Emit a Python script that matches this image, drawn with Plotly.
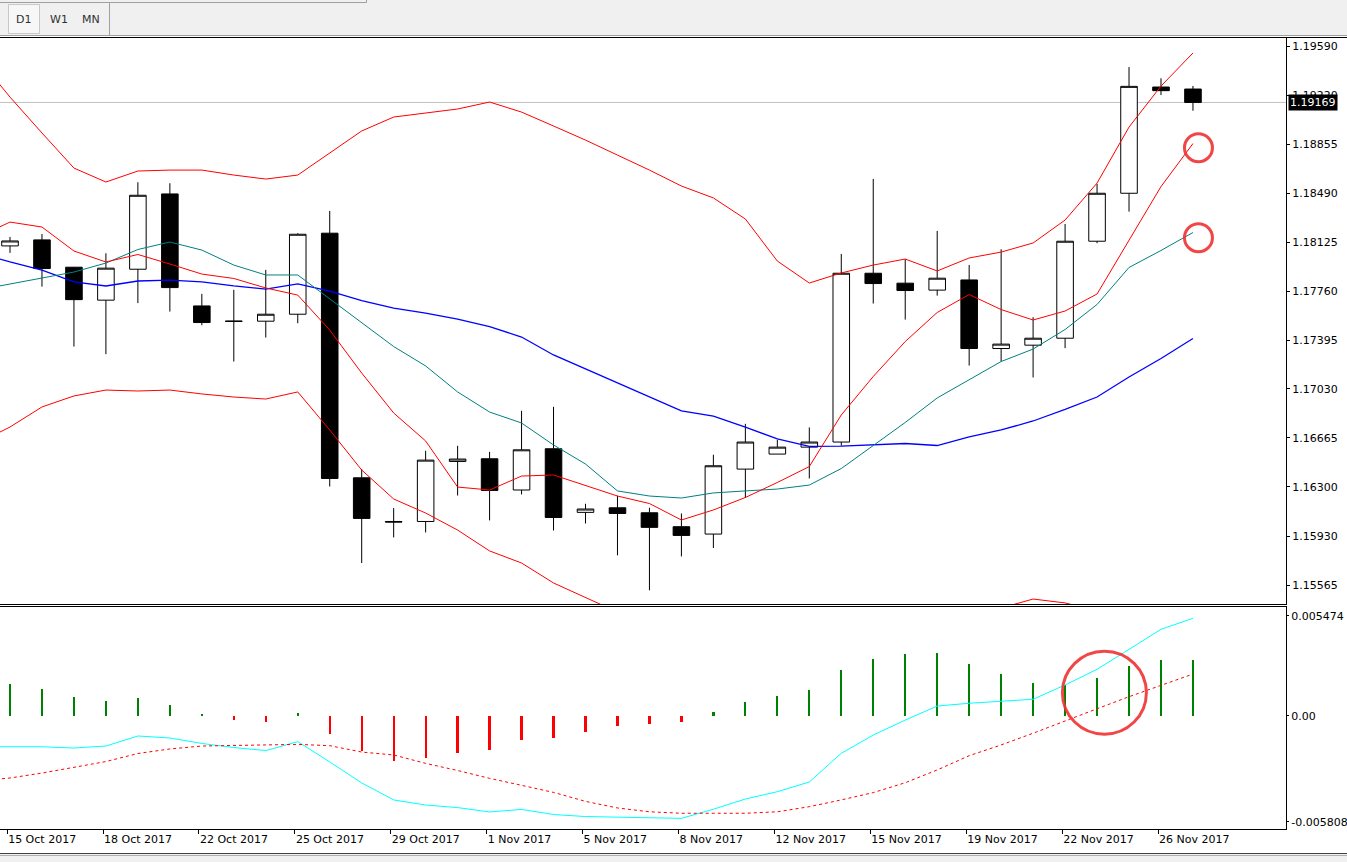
import plotly.graph_objects as go

# ---------------- data ----------------
dates = ["15 Oct 2017", "16 Oct 2017", "17 Oct 2017", "18 Oct 2017", "19 Oct 2017", "20 Oct 2017",
         "22 Oct 2017", "23 Oct 2017", "24 Oct 2017", "25 Oct 2017", "26 Oct 2017", "27 Oct 2017",
         "29 Oct 2017", "30 Oct 2017", "31 Oct 2017", "1 Nov 2017", "2 Nov 2017", "3 Nov 2017",
         "5 Nov 2017", "6 Nov 2017", "7 Nov 2017", "8 Nov 2017", "9 Nov 2017", "10 Nov 2017",
         "12 Nov 2017", "13 Nov 2017", "14 Nov 2017", "15 Nov 2017", "16 Nov 2017", "17 Nov 2017",
         "19 Nov 2017", "20 Nov 2017", "21 Nov 2017", "22 Nov 2017", "23 Nov 2017", "24 Nov 2017",
         "26 Nov 2017", "27 Nov 2017"]

open_ = [1.18098, 1.18143, 1.17939, 1.17693, 1.17924, 1.18486, 1.17650, 1.17538, 1.17536, 1.17588,
         1.18193, 1.16367, 1.16041, 1.16041, 1.16489, 1.16509, 1.16276, 1.16584, 1.16109, 1.16143,
         1.16106, 1.16002, 1.15947, 1.16432, 1.16544, 1.16596, 1.16634, 1.17894, 1.17820, 1.17768,
         1.17844, 1.17332, 1.17357, 1.17409, 1.18133, 1.18491, 1.19284, 1.19269]
high = [1.18165, 1.18187, 1.17941, 1.18043, 1.18573, 1.18566, 1.17740, 1.17770, 1.17919, 1.18193,
        1.18359, 1.16432, 1.16141, 1.16569, 1.16606, 1.16561, 1.16867, 1.16897, 1.16173, 1.16233,
        1.16143, 1.16101, 1.16539, 1.16770, 1.16651, 1.16743, 1.18038, 1.18598, 1.17999, 1.18210,
        1.17956, 1.18073, 1.17566, 1.18262, 1.18561, 1.19433, 1.19349, 1.19292]
low = [1.18046, 1.17794, 1.17347, 1.17290, 1.17671, 1.17608, 1.17506, 1.17235, 1.17414, 1.17521,
       1.16302, 1.15731, 1.15922, 1.15959, 1.16235, 1.16049, 1.16243, 1.15974, 1.16026, 1.15788,
       1.15527, 1.15780, 1.15843, 1.16216, 1.16544, 1.16362, 1.16606, 1.17668, 1.17548, 1.17727,
       1.17205, 1.17235, 1.17116, 1.17335, 1.18118, 1.18354, 1.19224, 1.19107]
close = [1.18135, 1.17929, 1.17697, 1.17932, 1.18476, 1.17787, 1.17526, 1.17534, 1.17588, 1.18185,
         1.16362, 1.16064, 1.16037, 1.16499, 1.16507, 1.16273, 1.16576, 1.16071, 1.16134, 1.16101,
         1.15997, 1.15937, 1.16457, 1.16634, 1.16596, 1.16634, 1.17894, 1.17817, 1.17765, 1.17857,
         1.17332, 1.17365, 1.17409, 1.18133, 1.18491, 1.19289, 1.19257, 1.19169]

# indicator series start one bar earlier (13 Oct 2017, just left of the visible window)
ma_fast = [1.18164,
           1.18276, 1.18239, 1.18060, 1.17978, 1.18034, 1.17963, 1.17888, 1.17855, 1.17784, 1.17731,
           1.17470, 1.17149, 1.16851, 1.16642, 1.16298, 1.16276, 1.16380, 1.16388, 1.16310, 1.16231,
           1.16175, 1.16052, 1.16127, 1.16220, 1.16332, 1.16451, 1.16836, 1.17123, 1.17384, 1.17601,
           1.17735, 1.17623, 1.17545, 1.17612, 1.17739, 1.18142, 1.18541, 1.18862]
ma_slow = [1.17769,
           1.17814, 1.17855, 1.17903, 1.17970, 1.18071, 1.18127, 1.18067, 1.17955, 1.17881, 1.17881,
           1.17702, 1.17523, 1.17347, 1.17202, 1.17008, 1.16858, 1.16776, 1.16612, 1.16470, 1.16269,
           1.16231, 1.16216, 1.16254, 1.16269, 1.16283, 1.16313, 1.16436, 1.16608, 1.16780, 1.16963,
           1.17097, 1.17235, 1.17328, 1.17474, 1.17661, 1.17937, 1.18064, 1.18198]
bb_mid = [1.18045,
          1.17978, 1.17918, 1.17829, 1.17799, 1.17836, 1.17843, 1.17829, 1.17799, 1.17776, 1.17814,
          1.17761, 1.17690, 1.17634, 1.17597, 1.17552, 1.17496, 1.17418, 1.17284, 1.17179, 1.17071,
          1.16966, 1.16866, 1.16828, 1.16746, 1.16657, 1.16601, 1.16604, 1.16616, 1.16623, 1.16608,
          1.16672, 1.16724, 1.16791, 1.16877, 1.16970, 1.17119, 1.17258, 1.17407]
bb_upper = [1.19500,
            1.19209, 1.18941, 1.18679, 1.18575, 1.18657, 1.18664, 1.18664, 1.18627, 1.18597, 1.18627,
            1.18791, 1.18956, 1.19060, 1.19090, 1.19120, 1.19172, 1.19097, 1.18993, 1.18888, 1.18776,
            1.18664, 1.18545, 1.18456, 1.18299, 1.17985, 1.17821, 1.17896, 1.17955, 1.18000, 1.17911,
            1.18008, 1.18052, 1.18120, 1.18291, 1.18567, 1.18985, 1.19291, 1.19538]
bb_lower = [1.16627,
            1.16746, 1.16896, 1.16978, 1.17022, 1.17015, 1.17022, 1.16993, 1.16970, 1.16955, 1.17008,
            1.16724, 1.16425, 1.16209, 1.16104, 1.15977, 1.15821, 1.15731, 1.15582, 1.15470, 1.15365,
            1.15268, 1.15186, 1.15201, 1.15194, 1.15328, 1.15380, 1.15313, 1.15276, 1.15246, 1.15306,
            1.15335, 1.15395, 1.15462, 1.15433, 1.15373, 1.15254, 1.15224, 1.15276]

macd_main = [-0.00170,
             -0.00170, -0.00170, -0.00177, -0.00166, -0.00111, -0.00122, -0.00152, -0.00174, -0.00191, -0.00142,
             -0.00253, -0.00368, -0.00461, -0.00489, -0.00503, -0.00527, -0.00513, -0.00541, -0.00552, -0.00556,
             -0.00562, -0.00562, -0.00512, -0.00456, -0.00416, -0.00363, -0.00206, -0.00106, -0.00024, 0.00053,
             0.00068, 0.00080, 0.00090, 0.00168, 0.00254, 0.00363, 0.00473, 0.00533]
macd_signal = [-0.00357,
               -0.00341, -0.00314, -0.00281, -0.00251, -0.00207, -0.00182, -0.00166, -0.00162, -0.00160, -0.00157,
               -0.00164, -0.00199, -0.00215, -0.00261, -0.00300, -0.00343, -0.00381, -0.00420, -0.00469, -0.00505,
               -0.00526, -0.00534, -0.00534, -0.00534, -0.00526, -0.00498, -0.00461, -0.00421, -0.00367, -0.00297,
               -0.00219, -0.00160, -0.00096, -0.00027, 0.00038, 0.00104, 0.00168, 0.00228]
osma = [0.00175, 0.00148, 0.00104, 0.00082, 0.00099, 0.00060, 0.00011, -0.00022, -0.00033, 0.00016,
        -0.00099, -0.00192, -0.00246, -0.00230, -0.00203, -0.00186, -0.00131, -0.00120, -0.00088, -0.00055,
        -0.00044, -0.00033, 0.00022, 0.00077, 0.00109, 0.00142, 0.00252, 0.00312, 0.00339, 0.00345,
        0.00285, 0.00230, 0.00181, 0.00170, 0.00208, 0.00274, 0.00307, 0.00307]

date_tick_labels = ["15 Oct 2017", "18 Oct 2017", "22 Oct 2017", "25 Oct 2017", "29 Oct 2017",
                    "1 Nov 2017", "5 Nov 2017", "8 Nov 2017", "12 Nov 2017", "15 Nov 2017",
                    "19 Nov 2017", "22 Nov 2017", "26 Nov 2017"]
price_ticks = [1.19590, 1.19220, 1.18855, 1.18490, 1.18125, 1.17760, 1.17395,
               1.17030, 1.16665, 1.16300, 1.15930, 1.15565]
osc_ticks = [0.005474, 0.0, -0.005808]
osc_tick_labels = ["0.005474", "0.00", "-0.005808"]
timeframes = ["D1", "W1", "MN"]

# ---------------- geometry helpers (decorations only) ----------------
W, H = 1347, 862
PL, PR, PT, PB = 0, 1286, 38, 829


def fx(px):
    return (px - PL) / (PR - PL)


def fy(py):
    return (PB - py) / (PB - PT)


idx = list(range(len(dates)))
line_idx = list(range(-1, len(dates)))
tick_idx = [dates.index(d) - 0.09 for d in date_tick_labels]
FONT = "DejaVu Sans"

fig = go.Figure()

fig.add_trace(go.Candlestick(
    x=idx, open=open_, high=high, low=low, close=close,
    increasing=dict(line=dict(color="black", width=1), fillcolor="white"),
    decreasing=dict(line=dict(color="black", width=1), fillcolor="black"),
    whiskerwidth=0, xaxis="x", yaxis="y", showlegend=False, hoverinfo="skip"))

for series, color, w in [(bb_upper, "#FF0000", 1), (bb_lower, "#FF0000", 1),
                         (bb_mid, "#0000FF", 1.3), (ma_slow, "#008080", 1),
                         (ma_fast, "#FF0000", 1)]:
    fig.add_trace(go.Scatter(x=line_idx, y=series, mode="lines",
                             line=dict(color=color, width=w),
                             xaxis="x", yaxis="y", showlegend=False, hoverinfo="skip"))

bar_colors = ["#008000" if v >= 0 else "#FF0000" for v in osma]
fig.add_trace(go.Bar(x=idx, y=osma, marker=dict(color=bar_colors, line=dict(width=0)),
                     width=0.07, xaxis="x2", yaxis="y2", showlegend=False, hoverinfo="skip"))
fig.add_trace(go.Scatter(x=line_idx, y=macd_main, mode="lines",
                         line=dict(color="#00FFFF", width=1),
                         xaxis="x2", yaxis="y2", showlegend=False, hoverinfo="skip"))
fig.add_trace(go.Scatter(x=line_idx, y=macd_signal, mode="lines",
                         line=dict(color="#FF0000", width=1, dash="dot"),
                         xaxis="x2", yaxis="y2", showlegend=False, hoverinfo="skip"))

xrange = [-0.313, 39.91]
main_dom = [fy(604), 1]
sub_dom = [0, fy(607)]

axis_font = dict(family=FONT, size=11, color="black")
fig.update_layout(
    width=W, height=H,
    margin=dict(l=PL, r=W - PR, t=PT, b=H - PB, pad=0),
    paper_bgcolor="white", plot_bgcolor="white",
    boxgap=0.26, bargap=0, hovermode=False,
    font=axis_font,
    xaxis=dict(domain=[0, 1], anchor="y", range=xrange, showticklabels=False, ticks="",
               showgrid=False, zeroline=False, showline=True, linecolor="black", linewidth=1,
               mirror=True, rangeslider=dict(visible=False), fixedrange=True),
    xaxis2=dict(domain=[0, 1], anchor="y2", range=xrange, matches="x",
                tickmode="array", tickvals=tick_idx, ticktext=date_tick_labels,
                ticks="outside", ticklen=4, tickcolor="black", tickwidth=1,
                ticklabelposition="outside right", tickfont=axis_font,
                showgrid=False, zeroline=False, showline=True, linecolor="black",
                linewidth=1, mirror=True),
    yaxis=dict(domain=main_dom, anchor="x", side="right", range=[1.15425, 1.19650],
               tickmode="array", tickvals=price_ticks, ticktext=[f"{v:.5f}" for v in price_ticks],
               ticks="outside", ticklen=3, tickcolor="black", tickfont=axis_font,
               showgrid=False, zeroline=False, showline=True, linecolor="black", linewidth=1),
    yaxis2=dict(domain=sub_dom, anchor="x2", side="right", range=[-0.006202, 0.005950],
                tickmode="array", tickvals=osc_ticks, ticktext=osc_tick_labels,
                ticks="outside", ticklen=2, tickcolor="black", tickfont=axis_font,
                showgrid=False, zeroline=False, showline=True, linecolor="black", linewidth=1),
)

shapes = []
# current price line
shapes.append(dict(type="line", xref="x domain", yref="y", x0=0, x1=1, y0=close[-1], y1=close[-1],
                   line=dict(color="#C0C0C0", width=1), layer="below"))
# toolbar background + borders
shapes.append(dict(type="rect", xref="paper", yref="paper", x0=fx(0), x1=fx(W), y0=fy(36), y1=fy(0),
                   fillcolor="#F0F0F0", line=dict(width=0), layer="above"))
shapes.append(dict(type="line", xref="paper", yref="paper", x0=fx(0), x1=fx(W), y0=fy(35.5), y1=fy(35.5),
                   line=dict(color="#A0A0A0", width=1)))
shapes.append(dict(type="line", xref="paper", yref="paper", x0=fx(0), x1=fx(W), y0=fy(37.5), y1=fy(37.5),
                   line=dict(color="black", width=1)))
shapes.append(dict(type="line", xref="paper", yref="paper", x0=fx(0), x1=fx(366.5), y0=fy(2.5), y1=fy(2.5),
                   line=dict(color="#A0A0A0", width=1)))
shapes.append(dict(type="line", xref="paper", yref="paper", x0=fx(366.5), x1=fx(366.5), y0=fy(2.5), y1=fy(0),
                   line=dict(color="#A0A0A0", width=1)))
shapes.append(dict(type="rect", xref="paper", yref="paper", x0=fx(8.5), x1=fx(39.5), y0=fy(33.5), y1=fy(4.5),
                   fillcolor="#F7F7F7", line=dict(color="#C8C8C8", width=1)))
shapes.append(dict(type="line", xref="paper", yref="paper", x0=fx(109.5), x1=fx(109.5), y0=fy(35), y1=fy(3),
                   line=dict(color="#A0A0A0", width=1)))
# bottom strip
shapes.append(dict(type="rect", xref="paper", yref="paper", x0=fx(0), x1=fx(W), y0=fy(H), y1=fy(854),
                   fillcolor="#F0F0F0", line=dict(width=0)))
shapes.append(dict(type="line", xref="paper", yref="paper", x0=fx(0), x1=fx(W), y0=fy(853.5), y1=fy(853.5),
                   line=dict(color="#404040", width=1)))
shapes.append(dict(type="line", xref="paper", yref="paper", x0=fx(0), x1=fx(W), y0=fy(855.5), y1=fy(855.5),
                   line=dict(color="#B0B0B0", width=1)))

# hand-drawn red circles (annotations on the original screenshot)
circle_style = dict(color="rgba(240,50,50,0.9)", width=3)
last = idx[-1]
px_x = (xrange[1] - xrange[0]) / (PR - PL)
px_y = (1.19650 - 1.15425) / (604 - 38)
for cy_val, dy in [(ma_fast[-1], 4.2), (ma_slow[-1], 5.2)]:
    cx = last + 5.5 * px_x
    cy = cy_val - dy * px_y
    r = 14
    shapes.append(dict(type="circle", xref="x", yref="y",
                       x0=cx - r * px_x, x1=cx + r * px_x, y0=cy - r * px_y, y1=cy + r * px_y,
                       line=circle_style, layer="above"))
px_y2 = (0.005950 + 0.006202) / (829 - 607)
cx2, cy2 = 34.23, 0.00126
shapes.append(dict(type="circle", xref="x2", yref="y2",
                   x0=cx2 - 42 * px_x, x1=cx2 + 42 * px_x, y0=cy2 - 41.5 * px_y2, y1=cy2 + 41.5 * px_y2,
                   line=circle_style, layer="above"))
fig.update_layout(shapes=shapes)

annotations = []
for name, xc in zip(timeframes, [23.5, 59, 91]):
    annotations.append(dict(text=name, xref="paper", yref="paper", x=fx(xc), y=fy(19),
                            xanchor="center", yanchor="middle", showarrow=False,
                            font=dict(family=FONT, size=11, color="#303030")))
annotations.append(dict(text=f"{close[-1]:.5f}", xref="paper", yref="y", x=fx(1288), y=close[-1],
                        xanchor="left", yanchor="middle", showarrow=False, bgcolor="black",
                        borderpad=1, font=dict(family=FONT, size=11, color="white")))
fig.update_layout(annotations=annotations)

fig.write_html("out.html", config={"displayModeBar": False})
